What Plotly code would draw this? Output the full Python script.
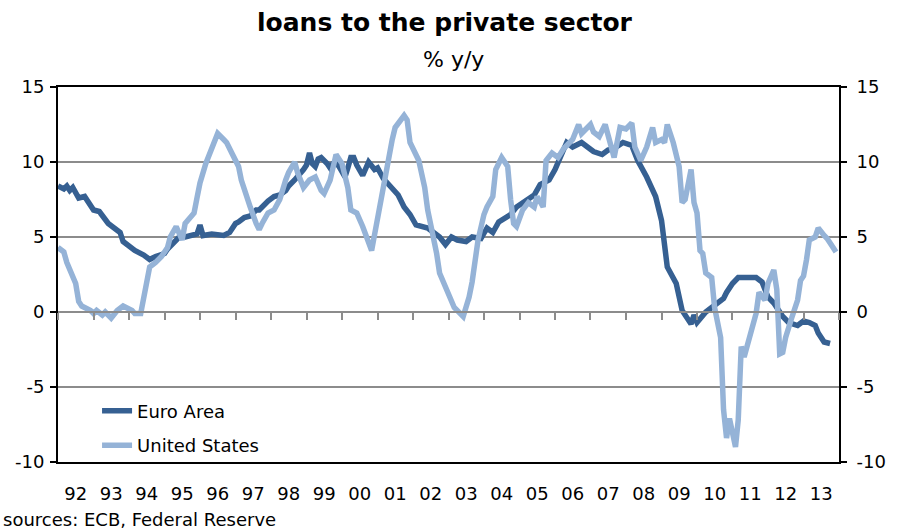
import pandas as pd
import plotly.graph_objects as go

# Euro Area loans to private sector, % y/y (monthly readings)
euro_dates = ["1992-01","1992-03","1992-04","1992-05","1992-06","1992-08","1992-10","1993-01","1993-03","1993-05",
              "1993-06","1993-08","1993-10","1993-11","1994-01","1994-03","1994-06","1994-08","1994-10","1995-01",
              "1995-02","1995-04","1995-06","1995-08","1995-11","1995-12","1996-01","1996-02","1996-05","1996-09",
              "1996-11","1997-01","1997-02","1997-04","1997-06","1997-08","1997-09","1997-11","1997-12","1998-02",
              "1998-04","1998-06","1998-07","1998-09","1998-11","1998-12","1999-01","1999-02","1999-03","1999-04",
              "1999-05","1999-06","1999-08","1999-09","1999-10","1999-11","1999-12","2000-02","2000-03","2000-04",
              "2000-05","2000-06","2000-08","2000-09","2000-10","2000-12","2001-01","2001-03","2001-06","2001-08",
              "2001-10","2001-12","2002-02","2002-05","2002-06","2002-08","2002-10","2002-12","2003-01","2003-02",
              "2003-04","2003-07","2003-09","2003-12","2004-02","2004-04","2004-06","2004-08","2004-10","2004-12",
              "2005-04","2005-06","2005-08","2005-11","2006-01","2006-03","2006-05","2006-07","2006-10","2006-12",
              "2007-02","2007-05","2007-07","2007-09","2007-12","2008-03","2008-05","2008-08","2008-11","2009-01",
              "2009-02","2009-03","2009-06","2009-07","2009-08","2009-11","2009-12","2010-01","2010-04","2010-06",
              "2010-10","2010-11","2011-01","2011-03","2011-09","2011-11","2012-01","2012-03","2012-06","2012-08",
              "2012-11","2013-01","2013-03","2013-05","2013-06","2013-08","2013-10"]
euro_values = [8.4, 8.2, 8.4, 8.1, 8.3, 7.6, 7.7, 6.8, 6.7, 6.1,
               5.9, 5.6, 5.3, 4.7, 4.4, 4.1, 3.8, 3.5, 3.7, 3.9,
               4.2, 4.6, 5.0, 5.0, 5.1, 5.2, 5.8, 5.1, 5.2, 5.1,
               5.3, 5.9, 6.0, 6.3, 6.4, 6.8, 6.8, 7.3, 7.4, 7.7,
               7.8, 8.1, 8.4, 8.8, 9.2, 9.5, 9.8, 10.6, 9.9, 9.7,
               10.2, 10.3, 9.9, 9.6, 9.9, 10.0, 9.7, 9.0, 9.6, 10.3,
               10.3, 9.8, 9.1, 9.6, 10.0, 9.5, 9.6, 8.9, 8.2, 7.8,
               7.0, 6.5, 5.8, 5.7, 5.6, 5.3, 5.0, 4.5, 4.8, 5.0,
               4.8, 4.7, 5.0, 4.9, 5.6, 5.3, 6.0, 6.3, 6.5, 7.0,
               7.5, 7.8, 8.5, 8.8, 9.5, 10.5, 11.3, 11.0, 11.3, 11.0,
               10.7, 10.5, 10.8, 10.9, 11.3, 11.1, 10.1, 9.0, 7.7, 6.1,
               4.6, 3.0, 1.9, 1.0, 0.1, -0.8, -0.2, -0.7, 0.0, 0.3,
               0.9, 1.3, 1.9, 2.3, 2.3, 2.0, 1.0, 0.6, -0.3, -0.7,
               -0.9, -0.6, -0.7, -0.9, -1.4, -2.0, -2.1]

# United States loans to private sector, % y/y (monthly readings)
us_dates = ["1992-01","1992-03","1992-04","1992-06","1992-07","1992-08","1992-09","1992-12","1993-01","1993-02",
            "1993-04","1993-05","1993-07","1993-09","1993-11","1994-02","1994-03","1994-05","1994-07","1994-08",
            "1994-10","1994-12","1995-02","1995-03","1995-05","1995-06","1995-07","1995-08","1995-11","1995-12",
            "1996-01","1996-03","1996-05","1996-07","1996-09","1996-10","1996-12","1997-02","1997-03","1997-04",
            "1997-06","1997-08","1997-09","1997-10","1997-12","1998-02","1998-04","1998-06","1998-07","1998-09",
            "1998-10","1998-12","1999-02","1999-04","1999-06","1999-07","1999-09","1999-11","2000-01","2000-03",
            "2000-04","2000-06","2000-07","2000-08","2000-11","2001-02","2001-06","2001-07","2001-10","2001-11",
            "2001-12","2002-03","2002-05","2002-06","2002-08","2002-09","2002-10","2003-01","2003-03","2003-06",
            "2003-08","2003-09","2003-11","2004-01","2004-02","2004-04","2004-05","2004-07","2004-09","2004-10",
            "2004-11","2004-12","2005-02","2005-04","2005-06","2005-07","2005-09","2005-10","2005-12","2006-02",
            "2006-04","2006-07","2006-09","2006-10","2007-01","2007-02","2007-04","2007-06","2007-08","2007-09",
            "2007-11","2008-01","2008-03","2008-04","2008-06","2008-08","2008-10","2008-11","2009-01","2009-02",
            "2009-03","2009-05","2009-07","2009-08","2009-09","2009-11","2009-12","2010-01","2010-02","2010-03",
            "2010-04","2010-06","2010-07","2010-09","2010-10","2010-11","2010-12","2011-01","2011-02","2011-03",
            "2011-04","2011-05","2011-06","2011-07","2011-09","2011-10","2011-12","2012-01","2012-03","2012-04",
            "2012-05","2012-06","2012-07","2012-09","2012-11","2012-12","2013-01","2013-02","2013-03","2013-05",
            "2013-06","2013-08","2013-09","2013-11","2013-12"]
us_values = [4.3, 4.0, 3.3, 2.5, 1.9, 0.7, 0.4, 0.1, -0.1, 0.1,
             -0.2, 0.0, -0.4, 0.1, 0.4, 0.1, -0.1, -0.1, 2.1, 3.0,
             3.3, 3.7, 4.3, 5.0, 5.7, 5.1, 4.8, 5.9, 6.6, 7.6,
             8.6, 9.9, 10.8, 11.9, 11.5, 11.3, 10.5, 9.7, 8.8, 8.1,
             7.0, 5.9, 5.5, 5.9, 6.6, 6.8, 7.5, 8.8, 9.3, 10.0,
             9.3, 8.3, 8.8, 9.0, 8.1, 7.9, 8.8, 10.5, 9.9, 8.3,
             6.8, 6.6, 6.2, 5.7, 4.1, 7.5, 11.5, 12.3, 13.1, 12.8,
             11.3, 10.1, 8.3, 6.8, 5.0, 3.9, 2.6, 1.3, 0.3, -0.3,
             1.0, 2.0, 4.8, 6.5, 7.0, 7.7, 9.5, 10.3, 9.7, 7.5,
             5.9, 5.7, 6.8, 7.3, 7.0, 7.7, 7.0, 10.1, 10.6, 10.3,
             10.9, 11.5, 12.5, 11.9, 12.5, 12.0, 11.7, 12.5, 11.0, 10.3,
             12.3, 12.2, 12.6, 11.0, 10.1, 11.0, 12.3, 11.3, 11.5, 11.3,
             12.5, 11.3, 9.7, 7.3, 7.5, 9.5, 7.3, 6.6, 4.1, 3.9,
             2.6, 2.3, 0.3, -1.7, -6.5, -8.4, -7.1, -8.0, -9.0, -7.2,
             -2.3, -3.0, -2.3, -1.5, -0.1, 1.3, 0.8, 1.9, 2.8, 1.5,
             -2.8, -2.7, -1.7, -0.4, 0.8, 2.1, 2.4, 3.5, 4.8, 5.0,
             5.6, 5.1, 4.9, 4.3, 4.0]

series_names = ["Euro Area", "United States"]
series_colors = ["#366092", "#95B3D7"]
y_ticks = [-10, -5, 0, 5, 10, 15]
y_tick_text = ["-10", "-5", "0", "5", "10", "15"]

FONT = "DejaVu Sans"

euro_x = pd.to_datetime(euro_dates, format="%Y-%m")
us_x = pd.to_datetime(us_dates, format="%Y-%m")

fig = go.Figure()
fig.add_trace(go.Scatter(x=euro_x, y=euro_values, mode="lines", name=series_names[0],
                         line=dict(color=series_colors[0], width=5.5), legendgroup="a",
                         xaxis="x", yaxis="y"))
fig.add_trace(go.Scatter(x=us_x, y=us_values, mode="lines", name=series_names[1],
                         line=dict(color=series_colors[1], width=5.5), legendgroup="b",
                         xaxis="x2", yaxis="y"))
# invisible trace to carry the right-hand axis
fig.add_trace(go.Scatter(x=[euro_x[0]], y=[0], mode="lines", showlegend=False,
                         line=dict(color="rgba(0,0,0,0)"), hoverinfo="skip",
                         xaxis="x", yaxis="y2"))

x_range = ["1992-01-01", "2014-01-01"]

fig.update_layout(
    width=898, height=531,
    margin=dict(l=58, r=50, t=87, b=69),
    paper_bgcolor="white", plot_bgcolor="white",
    font=dict(family=FONT, size=18, color="black"),
    showlegend=True,
    legend=dict(x=0.05, y=0.185, xanchor="left", yanchor="top",
                bgcolor="rgba(0,0,0,0)", font=dict(size=18, family=FONT),
                tracegroupgap=8, traceorder="grouped"),
    xaxis=dict(type="date", range=x_range, dtick="M12", tick0="1992-01-01",
               tickformat="%y", ticklabelmode="period",
               ticks="outside", ticklen=14, tickcolor="rgba(0,0,0,0)",
               showgrid=False, zeroline=False,
               showline=True, linecolor="black", linewidth=2, mirror=True,
               tickfont=dict(size=18, family=FONT)),
    xaxis2=dict(type="date", range=x_range, dtick="M12", tick0="1992-01-01",
                overlaying="x", matches="x", anchor="free", position=0.4, side="bottom",
                ticks="outside", ticklen=7, tickwidth=2, tickcolor="#8c8c8c",
                showticklabels=False, showgrid=False, zeroline=False,
                showline=True, linecolor="#8c8c8c", linewidth=2),
    yaxis=dict(range=[-10, 15], tickvals=y_ticks, ticktext=y_tick_text,
               ticks="outside", ticklen=6, ticklabelstandoff=2,
               tickcolor="black", tickwidth=2,
               showgrid=True, gridcolor="#8c8c8c", gridwidth=2, zeroline=False,
               showline=True, linecolor="black", linewidth=2, mirror=True,
               tickfont=dict(size=18, family=FONT)),
    yaxis2=dict(range=[-10, 15], tickvals=y_ticks, ticktext=y_tick_text,
                overlaying="y", matches="y", side="right",
                ticks="outside", ticklen=6, ticklabelstandoff=6,
                tickcolor="black", tickwidth=2,
                showgrid=False, zeroline=False, showline=True, linecolor="black", linewidth=2,
                tickfont=dict(size=18, family=FONT)),
    annotations=[
        dict(text="<b>loans to the private sector</b>", xref="paper", yref="paper",
             x=0.496, y=1.1733, xanchor="center", yanchor="middle", showarrow=False,
             font=dict(size=25, family=FONT)),
        dict(text="% y/y", xref="paper", yref="paper", x=0.506, y=1.072,
             xanchor="center", yanchor="middle", showarrow=False,
             font=dict(size=22, family=FONT)),
        dict(text="sources: ECB, Federal Reserve", xref="paper", yref="paper",
             x=-0.0734, y=-0.152, xanchor="left", yanchor="middle", showarrow=False,
             font=dict(size=18, family=FONT)),
    ],
)

fig.write_html("out.html")
